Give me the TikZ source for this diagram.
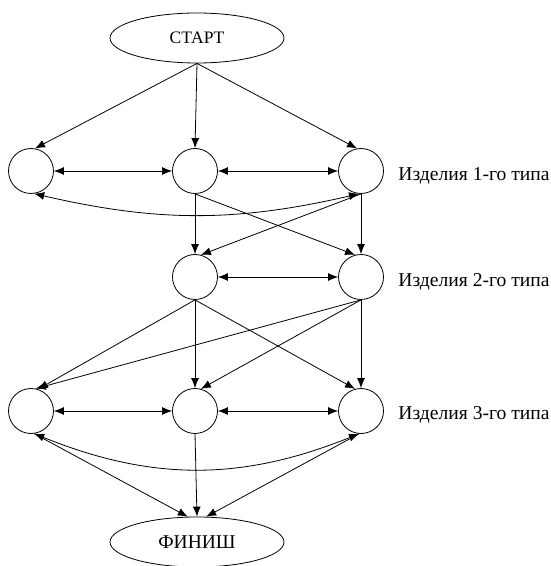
\documentclass[tikz,border=0pt]{standalone}
\usepackage{fontspec}
\setmainfont{Liberation Serif}
\usetikzlibrary{arrows.meta,shapes.geometric}
\begin{document}
\begin{tikzpicture}[x=1pt,y=1pt,
  line width=0.8pt,
  terminal/.style={draw,ellipse,inner sep=0pt,minimum width=174pt,minimum height=50pt},
  item/.style={draw,circle,inner sep=0pt,minimum size=45pt},
  caption/.style={anchor=base west,inner sep=0pt,font=\fontsize{19.6}{20}\selectfont},
  arr/.style={-{Latex[length=10pt,width=8pt]}},
  darr/.style={{Latex[length=10pt,width=8pt]}-{Latex[length=10pt,width=8pt]}}
]
\useasboundingbox (0,0) rectangle (551,566);

% start and finish
\node[terminal,font=\fontsize{17.5}{18}\selectfont] (start) at (197,528) {СТАРТ};
\node[terminal,font=\fontsize{19.5}{20}\selectfont] (finish) at (197,24) {ФИНИШ};

% items of the first type
\node[item] (a1) at (31,395) {};
\node[item] (a2) at (195,395) {};
\node[item] (a3) at (361,395) {};
% items of the second type
\node[item] (b1) at (195,289) {};
\node[item] (b2) at (361,289) {};
% items of the third type
\node[item] (c1) at (31,155) {};
\node[item] (c2) at (195,155) {};
\node[item] (c3) at (361,155) {};

% row captions
\node[caption] (la) at (398,385) {Изделия 1-го типа};
\node[caption] (lb) at (398,279) {Изделия 2-го типа};
\node[caption] (lc) at (398,146) {Изделия 3-го типа};

% from start
\draw[arr] (start.south) -- (a1.80);
\draw[arr] (start.south) -- (a2.north);
\draw[arr] (start.south) -- (a3.100);

% first row links
\draw[darr] (a1.east) -- (a2.west);
\draw[darr] (a2.east) -- (a3.west);
\draw[darr] (a1.-82) to[bend right=13] (a3.-95);

% first row to second row
\draw[arr] (a2.south) -- (b1.north);
\draw[arr] (a2.south) -- (b2.105);
\draw[arr] (a3.south) -- (b2.north);
\draw[arr] (a3.south) -- (b1.75);

% second row link
\draw[darr] (b1.east) -- (b2.west);

% second row to third row
\draw[arr] (b1.south) -- (c1.72);
\draw[arr] (b1.south) -- (c2.north);
\draw[arr] (b1.south) -- (c3.105);
\draw[arr] (b2.south) -- (c1.78);
\draw[arr] (b2.south) -- (c2.75);
\draw[arr] (b2.south) -- (c3.north);

% third row links
\draw[darr] (c1.east) -- (c2.west);
\draw[darr] (c2.east) -- (c3.west);
\draw[darr] (c1.-82) to[bend right=22] (c3.-95);

% to finish
\draw[arr] (c1.-82) -- (finish.110);
\draw[arr] (c2.south) -- (finish.north);
\draw[arr] (c3.-95) -- (finish.70);
\end{tikzpicture}
\end{document}
